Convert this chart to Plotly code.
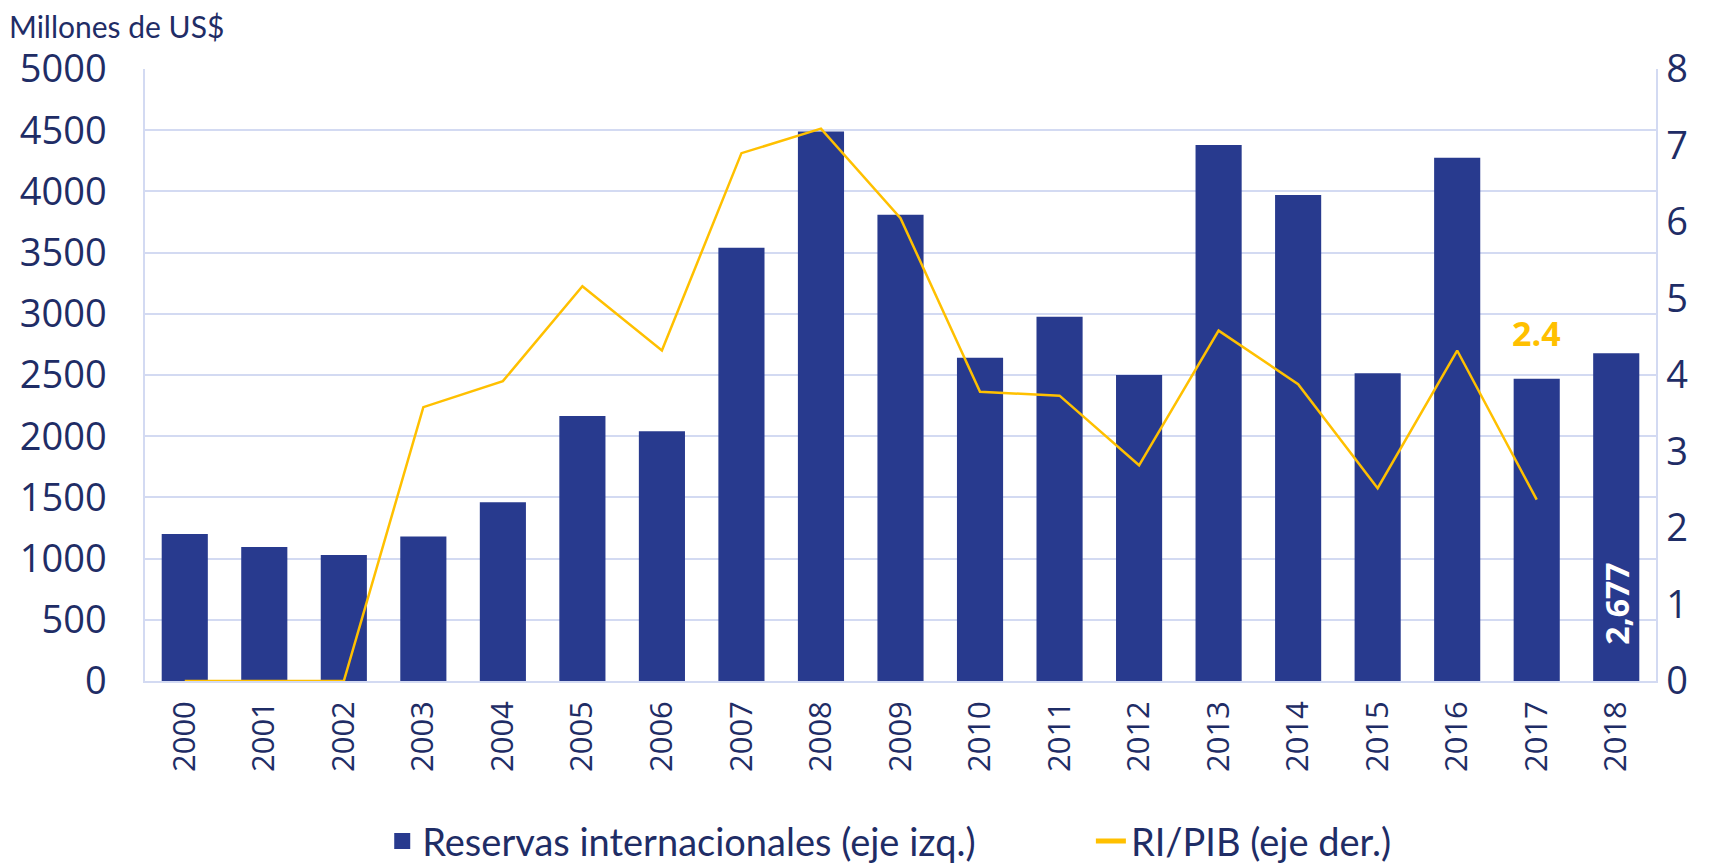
import plotly.graph_objects as go

# data
years = [str(y) for y in range(2000, 2019)]
reservas = [1200, 1095, 1030, 1180, 1460, 2165, 2040, 3540, 4490, 3810,
            2640, 2975, 2500, 4380, 3970, 2515, 4275, 2470, 2677]
ri_pib = [0, 0, 0, 3.58, 3.92, 5.16, 4.32, 6.90, 7.22, 6.05,
          3.78, 3.73, 2.82, 4.58, 3.88, 2.52, 4.32, 2.37, None]

# only the last bar carries a value label (padded up from the base)
pad = '\u00a0' * 4
bar_labels = [''] * (len(years) - 1) + [pad + f'{reservas[-1]:,}']

navy = '#283A8E'
gold = '#FFC000'
txt = '#1F2D66'
grid = '#D3DAF2'
font = 'Lato'
num_font = 'Open Sans'

fig = go.Figure()

fig.add_trace(go.Bar(
    x=years, y=reservas,
    name='Reservas internacionales (eje izq.)',
    marker=dict(color=navy, line=dict(width=0)),
    text=bar_labels, textposition='inside', textangle=-90,
    insidetextanchor='start', constraintext='none',
    textfont=dict(family=num_font, size=32, color='white', weight='bold'),
    showlegend=False,
))

# legend-only entry so the key is a bigger square
fig.add_trace(go.Scatter(
    x=[None], y=[None], mode='markers',
    name='Reservas internacionales (eje izq.)',
    marker=dict(symbol='square', size=16, color=navy),
    legend='legend',
))

fig.add_trace(go.Scatter(
    x=years, y=ri_pib,
    name='RI/PIB (eje der.)',
    mode='lines',
    line=dict(color=gold, width=2.5),
    yaxis='y2',
    legend='legend2',
))

# "2.4" data label for the last ratio value (category index of 2017)
fig.add_annotation(
    x=years.index('2017'), y=4.55, xref='x', yref='y2',
    text='<b>2.4</b>', showarrow=False,
    font=dict(family=num_font, size=34, color=gold),
)

fig.add_annotation(
    x=0, y=1, xref='paper', yref='paper',
    xshift=-137, yshift=24, xanchor='left', yanchor='bottom',
    text='Millones de US$', showarrow=False, borderpad=0,
    font=dict(family=font, size=30, color=txt),
)

leg_font = dict(family=font, size=38, color=txt)

fig.update_layout(
    width=1711, height=860,
    margin=dict(l=137, r=63, t=61, b=187, autoexpand=False),
    paper_bgcolor='white', plot_bgcolor='white',
    bargap=0.42,
    font=dict(family=font, color=txt),
    showlegend=True,
    legend=dict(
        orientation='h', x=0.157, y=-0.262, xanchor='left', yanchor='middle',
        font=leg_font, itemsizing='trace',
    ),
    legend2=dict(
        orientation='h', x=0.626, y=-0.262, xanchor='left', yanchor='middle',
        font=leg_font, itemsizing='constant',
    ),
    xaxis=dict(
        type='category', tickangle=-90,
        tickfont=dict(family=num_font, size=31, color=txt),
        showgrid=False, showline=True, linecolor=grid, linewidth=1.5,
        ticks='', ticklabelstandoff=6,
    ),
    yaxis=dict(
        range=[0, 5000], dtick=500,
        tickfont=dict(family=num_font, size=38, color=txt),
        showgrid=True, gridcolor=grid, gridwidth=1.5,
        showline=True, linecolor=grid, linewidth=1.5,
        zeroline=False, ticks='', ticklabelstandoff=29,
    ),
    yaxis2=dict(
        range=[0, 8], dtick=1, overlaying='y', side='right',
        tickfont=dict(family=num_font, size=38, color=txt),
        showgrid=False, showline=True, linecolor=grid, linewidth=1.5,
        zeroline=False, ticks='', ticklabelstandoff=1,
    ),
)

fig.write_html('out.html')
